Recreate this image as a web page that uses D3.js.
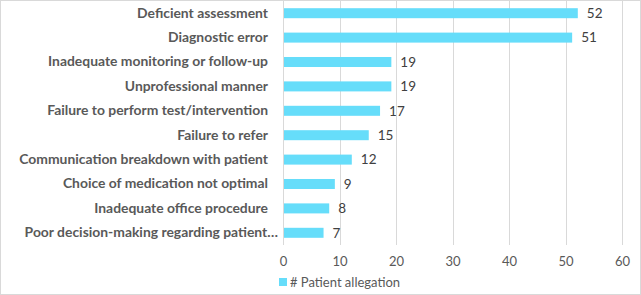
<!DOCTYPE html>
<html>
<head>
<meta charset="utf-8">
<script src="https://cdn.jsdelivr.net/npm/d3@7"></script>
<style>
  body { margin: 0; background: #fff; }
  #chart { width: 641px; height: 295px; }
</style>
</head>
<body>
<div id="chart"></div>
<script>
// data
const categories = [
    "Deficient assessment",
    "Diagnostic error",
    "Inadequate monitoring or follow-up",
    "Unprofessional manner",
    "Failure to perform test/intervention",
    "Failure to refer",
    "Communication breakdown with patient",
    "Choice of medication not optimal",
    "Inadequate office procedure",
    "Poor decision-making regarding patient\u2026"
];
const allegations = [52, 51, 19, 19, 17, 15, 12, 9, 8, 7];
const xTicks = [0, 10, 20, 30, 40, 50, 60];
const seriesName = "# Patient allegation";

const W = 641, H = 295;
const margin = {top: 1, right: 19, bottom: 50, left: 283};
const width = W - margin.left - margin.right;
const height = H - margin.top - margin.bottom;
const font = "Lato, 'Open Sans', sans-serif";

const svg = d3.select("#chart").append("svg")
    .attr("width", W)
    .attr("height", H);

// outer chart border
svg.append("rect")
    .attr("x", 0.5).attr("y", 0.5)
    .attr("width", W - 1).attr("height", H - 1)
    .attr("fill", "none")
    .attr("stroke", "#d9d9d9");

const g = svg.append("g")
    .attr("transform", "translate(" + margin.left + "," + margin.top + ")");

const x = d3.scaleLinear().domain([0, 60]).range([0, width]);
const y = d3.scaleBand().domain(categories).range([0, height])
    .paddingInner(0.59).paddingOuter(0.295);

// gridlines
g.selectAll(".grid")
    .data(xTicks)
    .enter()
    .append("line")
    .attr("x1", d => Math.round(x(d)) + 0.5)
    .attr("x2", d => Math.round(x(d)) + 0.5)
    .attr("y1", 0)
    .attr("y2", height)
    .attr("stroke", "#d9d9d9");

// bars
g.selectAll(".bar")
    .data(allegations)
    .enter()
    .append("rect")
    .attr("x", x(0) + 1)
    .attr("y", (d, i) => y(categories[i]))
    .attr("width", d => x(d) - x(0))
    .attr("height", y.bandwidth())
    .attr("fill", "#66ddfa");

// value labels
g.selectAll(".val")
    .data(allegations)
    .enter()
    .append("text")
    .attr("x", d => x(d) + 10)
    .attr("y", (d, i) => y(categories[i]) + y.bandwidth() / 2)
    .attr("dy", "0.35em")
    .attr("font-family", font)
    .attr("font-size", 13.5)
    .attr("fill", "#404040")
    .text(d => d);

// category axis labels
const yAxis = g.append("g")
    .call(d3.axisLeft(y).tickSize(0).tickPadding(15));
yAxis.select(".domain").remove();
yAxis.selectAll("text")
    .attr("font-family", font)
    .attr("font-weight", "bold")
    .attr("font-size", 13.9)
    .attr("fill", "#595959")
    .attr("dx", (d, i) => i === categories.length - 1 ? 10 : 0);

// value axis
const xAxis = g.append("g")
    .attr("transform", "translate(0," + height + ")")
    .call(d3.axisBottom(x).tickValues(xTicks).tickSize(0).tickPadding(12));
xAxis.select(".domain").remove();
xAxis.selectAll("text")
    .attr("font-family", font)
    .attr("font-size", 13)
    .attr("fill", "#595959");

// legend
const legend = svg.append("g")
    .attr("transform", "translate(279," + 282 + ")");
legend.append("rect")
    .attr("x", 0).attr("y", -4)
    .attr("width", 8).attr("height", 8)
    .attr("fill", "#66ddfa");
legend.append("text")
    .attr("x", 11)
    .attr("dy", "0.35em")
    .attr("font-family", font)
    .attr("font-size", 13)
    .attr("fill", "#595959")
    .text(seriesName);
</script>
</body>
</html>
